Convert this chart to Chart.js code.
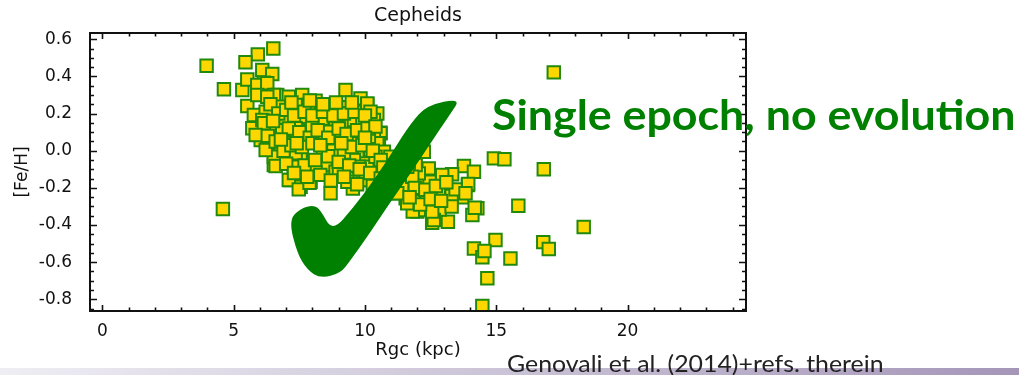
<!DOCTYPE html>
<html>
<head>
<meta charset="utf-8">
<script src="https://cdn.jsdelivr.net/npm/chart.js@4"></script>
<style>
  body { margin: 0; width: 1019px; height: 375px; overflow: hidden; background: #fff; position: relative; }
  #myChart { position: absolute; left: 0; top: 0; }
  .bar { position: absolute; left: 0; top: 368px; width: 1019px; height: 7px;
         background: linear-gradient(to right, #efeef4, #a596b8); }
  #claim { position: absolute; left: 492px; top: 93px; font: bold 42px Lato; line-height: 1;
           color: #008000; white-space: nowrap; transform-origin: 0 0; }
  #ref { position: absolute; left: 507px; top: 352px; font: 23px Lato; line-height: 1;
         color: #222; white-space: nowrap; transform-origin: 0 0; }
</style>
</head>
<body>
<canvas id="myChart" width="1019" height="375"></canvas>
<div class="bar"></div>
<div id="claim">Single epoch, no evolution</div>
<div id="ref">Genovali et al. (2014)+refs. therein</div>
<script>
// Cepheids: galactocentric radius (kpc) vs [Fe/H]
const rgc = [
  3.97, 4.63, 5.33, 6.51, 5.92, 5.45, 6.09, 6.47, 5.52, 6.15, 5.90, 6.28,
  9.26, 8.12, 9.83, 10.09, 10.47, 9.33, 8.69, 5.52, 5.71, 10.59, 6.53, 8.69,
  7.17, 7.55, 7.93, 4.59, 9.54, 17.19, 14.91, 15.31, 16.81, 15.84, 18.33, 14.97,
  14.15, 14.47, 14.55, 15.54, 16.79, 17.00, 14.66, 14.47, 14.28, 14.09, 13.16, 12.56,
  12.85, 11.99, 13.70, 13.92, 11.84,
  13.77, 14.15, 13.32, 13.93, 14.18, 13.07, 12.62, 12.56, 12.31, 12.05, 11.86, 11.74,
  11.42, 11.61, 12.05, 12.46, 12.81, 13.30, 13.45, 12.94, 12.43, 12.05, 11.67, 12.24,
  11.93, 11.67, 11.39, 11.29, 11.55, 11.82, 11.61, 13.83, 11.16, 11.42, 11.80, 11.61,
  10.09, 10.59, 10.53, 10.21, 8.95, 7.10, 9.26, 9.71, 10.02, 8.37, 7.93, 7.55,
  7.04, 6.60, 6.53, 6.91, 7.36, 7.80, 8.31, 8.76, 9.33, 9.71, 8.95, 9.45,
  9.83, 8.63, 8.18, 7.67, 7.17, 6.66, 8.56, 7.93, 7.42, 6.91, 9.01, 9.14,
  9.58, 8.63, 10.34, 10.21, 5.90, 6.53, 7.10, 7.61, 8.63, 5.77, 6.22, 6.72,
  7.36, 7.86, 6.47, 6.98, 7.61, 8.37, 8.88, 6.09, 6.85, 7.36, 7.99, 8.63,
  6.28, 6.15, 6.03, 6.28, 6.79, 6.53, 7.29, 8.18, 8.44, 9.07, 9.58, 10.09,
  9.45, 10.09, 9.33, 10.34, 10.47, 10.72, 10.97, 11.10, 11.23, 6.60, 7.48, 7.89,
  8.50, 8.88, 8.12, 7.36, 6.22, 5.84, 9.01, 10.02, 9.77, 10.40, 10.15, 9.64,
  9.01, 9.58, 9.90,
  6.40, 6.70, 7.00, 7.30, 7.70, 8.00, 8.40, 8.80, 9.20, 9.60, 10.00,
  6.30, 6.60, 7.10, 7.50, 7.90, 8.20, 8.60, 9.00, 9.30, 9.70, 10.10, 10.40,
  6.90, 7.20, 7.60, 8.00, 8.40, 8.80, 9.20, 9.50, 9.90, 10.30, 10.60,
  7.00, 7.70, 8.10, 8.60, 9.00, 9.40, 9.80, 10.20, 10.70, 10.90,
  6.50, 7.20, 7.90, 8.40, 8.90, 9.50, 6.80, 7.40, 8.30, 9.10, 10.00,
  7.30, 7.80, 8.30, 8.70, 9.20, 9.70, 10.30, 10.60,
  11.90, 12.30, 12.70, 13.10, 12.10, 12.50, 11.70, 13.30, 12.90
];
const feh = [
  0.458, 0.331, 0.327, 0.551, 0.519, 0.476, 0.435, 0.413, 0.384, 0.366, 0.354, 0.363,
  0.327, 0.269, 0.282, 0.251, 0.201, 0.234, 0.219, 0.241, 0.121, 0.097, -0.077, -0.229,
  -0.158, -0.194, -0.167, -0.314, -0.203, 0.422, -0.041, -0.046, -0.100, -0.296, -0.411, -0.481,
  -0.526, -0.574, -0.540, -0.580, -0.492, -0.529, -0.687, -0.836, -0.310, -0.346, -0.382, -0.388,
  -0.316, -0.328, -0.251, -0.185, -0.233,
  -0.082, -0.113, -0.127, -0.179, -0.307, -0.221, -0.373, -0.328, -0.256, -0.319, -0.275, -0.202,
  -0.221, -0.158, -0.158, -0.167, -0.229, -0.244, -0.208, -0.131, -0.095, -0.122, -0.122, -0.005,
  -0.077, -0.068, -0.158, -0.221, -0.256, -0.328, -0.283, -0.229, -0.229, -0.194, -0.140, -0.086,
  0.255, 0.094, 0.040, 0.004, -0.113, -0.158, 0.004, -0.032, -0.068, -0.077, -0.059, -0.041,
  -0.023, -0.041, 0.111, 0.094, 0.067, 0.094, 0.058, 0.040, 0.058, 0.067, 0.129, 0.148,
  0.138, 0.201, 0.210, 0.237, 0.273, 0.300, 0.148, 0.148, 0.165, 0.183, 0.094, -0.059,
  -0.113, -0.104, 0.165, 0.210, 0.300, 0.300, 0.291, 0.300, 0.225, 0.192, 0.210, 0.237,
  0.246, 0.246, 0.138, 0.174, 0.183, 0.174, 0.165, 0.165, 0.111, 0.121, 0.129, 0.102,
  0.291, 0.148, 0.058, 0.022, 0.022, -0.032, -0.086, -0.104, -0.050, -0.032, -0.050, -0.086,
  -0.122, -0.158, -0.167, 0.075, 0.040, -0.005, -0.032, -0.104, -0.229, -0.082, -0.208, -0.172,
  -0.077, -0.113, -0.113, -0.014, 0.004, 0.085, -0.113, -0.158, -0.086, -0.032, 0.075, 0.040,
  0.201, 0.165, 0.174,
  0.25, 0.20, 0.22, 0.19, 0.21, 0.19, 0.21, 0.19, 0.20, 0.21, 0.19,
  0.08, 0.05, 0.12, 0.10, 0.07, 0.11, 0.07, 0.12, 0.09, 0.11, 0.12, 0.13,
  0.00, 0.03, 0.02, 0.04, -0.01, 0.00, -0.01, 0.02, 0.03, 0.00, -0.05,
  -0.07, -0.08, -0.05, -0.03, -0.06, -0.08, -0.10, -0.12, -0.09, -0.15,
  0.16, 0.26, 0.27, 0.25, 0.26, 0.26, 0.06, 0.04, 0.03, 0.04, 0.07,
  -0.12, -0.14, -0.13, -0.16, -0.14, -0.18, -0.19, -0.15,
  -0.20, -0.21, -0.19, -0.17, -0.29, -0.26, -0.25, -0.30, -0.27
];

const xTicks = [0, 5, 10, 15, 20];
const yTicks = [-0.8, -0.6, -0.4, -0.2, 0.0, 0.2, 0.4, 0.6];

// outline of the big check mark, in data units (Rgc, [Fe/H])
const checkShape = [
  [13.64, 0.282], [12.37, 0.246], [11.74, 0.148], [11.10, 0.004], [10.34, -0.158],
  [9.58, -0.302], [8.76, -0.436], [8.31, -0.319], [8.05, -0.292], [7.55, -0.310],
  [7.10, -0.373], [7.42, -0.552], [7.80, -0.642], [8.31, -0.687], [9.07, -0.660],
  [9.45, -0.589], [10.09, -0.463], [10.85, -0.302], [11.74, -0.122], [12.50, 0.040],
  [13.26, 0.201]
];

const family = "'DejaVu Sans', Verdana, sans-serif";
const tickFont = { family: family, size: 17 };
const ink = "#111";

const decor = {
  id: "decor",
  afterDatasetsDraw(chart) {
    const { ctx, scales } = chart;
    const p = checkShape.map(([x, y]) => [scales.x.getPixelForValue(x), scales.y.getPixelForValue(y)]);
    ctx.save();
    ctx.fillStyle = "#008000";
    ctx.beginPath();
    const n = p.length;
    const mid = (a, b) => [(a[0] + b[0]) / 2, (a[1] + b[1]) / 2];
    let m = mid(p[n - 1], p[0]);
    ctx.moveTo(m[0], m[1]);
    for (let i = 0; i < n; i++) {
      const q = mid(p[i], p[(i + 1) % n]);
      ctx.quadraticCurveTo(p[i][0], p[i][1], q[0], q[1]);
    }
    ctx.closePath();
    ctx.fill();
    ctx.restore();
  },
  afterDraw(chart) {
    const { ctx, chartArea: a, scales } = chart;
    ctx.save();
    ctx.strokeStyle = ink;
    ctx.lineWidth = 1.6;
    ctx.beginPath();
    for (let v = 0; v <= 24; v += 1) {
      const x = Math.round(scales.x.getPixelForValue(v)) + 0.5;
      const len = v % 5 === 0 ? 6 : 3.5;
      ctx.moveTo(x, a.bottom); ctx.lineTo(x, a.bottom - len);
      ctx.moveTo(x, a.top); ctx.lineTo(x, a.top + len);
    }
    for (let k = -17; k <= 12; k++) {
      const v = k * 0.05;
      const y = Math.round(scales.y.getPixelForValue(v)) + 0.5;
      const len = k % 4 === 0 ? 7 : 4;
      ctx.moveTo(a.left, y); ctx.lineTo(a.left + len, y);
      ctx.moveTo(a.right, y); ctx.lineTo(a.right - len, y);
    }
    ctx.stroke();
    ctx.lineWidth = 2;
    ctx.strokeRect(a.left, a.top, a.right - a.left, a.bottom - a.top);
    ctx.restore();
  }
};

const points = rgc.map((x, i) => ({ x: x, y: feh[i] }));

new Chart(document.getElementById("myChart"), {
  type: "scatter",
  data: {
    datasets: [
      {
        label: "Cepheids",
        data: points,
        pointStyle: "rect",
        pointRadius: 8.8,
        borderWidth: 2,
        backgroundColor: "#ffd700",
        borderColor: "#218a0c",
      },
    ],
  },
  options: {
    responsive: false,
    animation: false,
    layout: { padding: { left: 0, right: 273, top: 0, bottom: 0 } },
    plugins: { legend: { display: false }, tooltip: { enabled: false } },
    scales: {
      x: {
        type: "linear",
        position: "bottom",
        min: -0.47,
        max: 24.51,
        afterFit(s) { s.height = 64; },
        afterBuildTicks(s) { s.ticks = xTicks.map((v) => ({ value: v })); },
        grid: { display: false },
        border: { display: false },
        ticks: { padding: 2, color: ink, font: tickFont, maxRotation: 0, autoSkip: false },
        title: { display: true, text: "Rgc (kpc)", color: ink, font: { family: family, size: 18 }, padding: { top: 0, bottom: 14 } },
      },
      top: {
        type: "linear",
        position: "top",
        min: -0.47,
        max: 24.51,
        afterFit(s) { s.height = 33; },
        grid: { display: false },
        border: { display: false },
        ticks: { display: false },
        title: { display: true, text: "Cepheids", color: ink, font: { family: family, size: 19 }, padding: { top: 5, bottom: 0 } },
      },
      y: {
        type: "linear",
        position: "left",
        min: -0.863,
        max: 0.634,
        afterFit(s) { s.width = 90; },
        afterBuildTicks(s) { s.ticks = yTicks.map((v) => ({ value: v })); },
        grid: { display: false },
        border: { display: false },
        ticks: { padding: 10, color: ink, font: tickFont, callback: (v) => Number(v).toFixed(1) },
        title: { display: true, text: "[Fe/H]", color: ink, font: { family: family, size: 17 }, padding: { top: 12, bottom: 0 } },
      },
    },
  },
  plugins: [decor],
});

function fit(id, w) {
  const el = document.getElementById(id);
  el.style.transform = "scaleX(" + (w / el.offsetWidth) + ")";
}
fit("claim", 523);
fit("ref", 376);
</script>
</body>
</html>
